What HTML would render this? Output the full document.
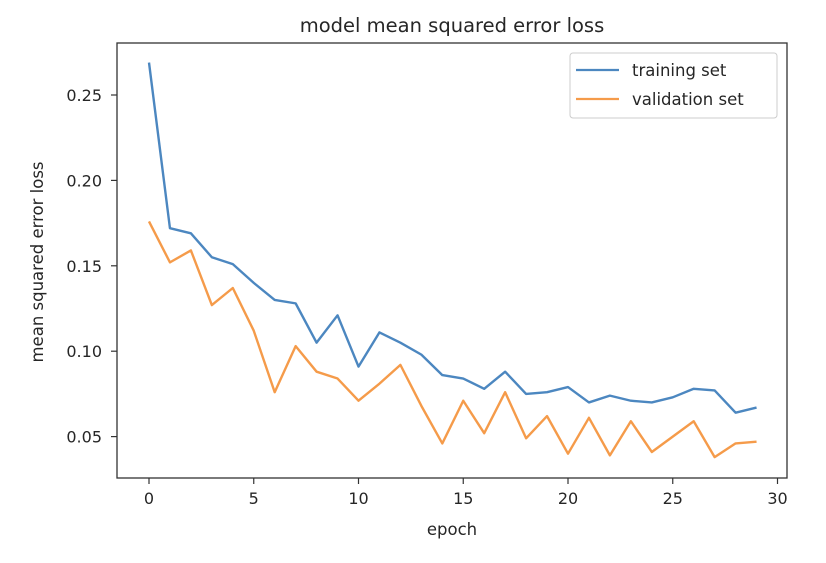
<!DOCTYPE html>
<html><head><meta charset="utf-8"><style>
html,body{margin:0;padding:0;background:#fff;}
svg text{font-family:"DejaVu Sans","Liberation Sans",sans-serif;fill:#262626;}
</style></head><body>
<svg id="chart" width="826" height="558" viewBox="0 0 826 558" xmlns="http://www.w3.org/2000/svg">
<rect width="826" height="558" fill="#fff"/>
<text x="452" y="32" font-size="19.5" text-anchor="middle">model mean squared error loss</text>
<g id="grid"></g>
<g id="lines"></g>
<rect x="117" y="43" width="670" height="435" fill="none" stroke="#333" stroke-width="1.3"/>
<text x="452" y="535" font-size="16.5" text-anchor="middle">epoch</text>
<text x="0" y="0" font-size="16.5" text-anchor="middle" transform="translate(43,262) rotate(-90)">mean squared error loss</text>
<g>
<rect x="570" y="53" width="207" height="65" rx="3" fill="#fff" stroke="#ccc" stroke-width="1"/>
<line x1="576" y1="70" x2="619" y2="70" stroke="#4c87c0" stroke-width="2.3"/>
<text x="632" y="76" font-size="16.5">training set</text>
<line x1="576" y1="99" x2="619" y2="99" stroke="#f59b4a" stroke-width="2.3"/>
<text x="632" y="105" font-size="16.5">validation set</text>
</g>
</svg>
<script>
const epochs = Array.from({length:30},(_,i)=>i);
const training = [0.269,0.172,0.169,0.155,0.151,0.140,0.130,0.128,0.105,0.121,0.091,0.111,0.105,0.098,0.086,0.084,0.078,0.088,0.075,0.076,0.079,0.070,0.074,0.071,0.070,0.073,0.078,0.077,0.064,0.067];
const validation = [0.176,0.152,0.159,0.127,0.137,0.112,0.076,0.103,0.088,0.084,0.071,0.081,0.092,0.068,0.046,0.071,0.052,0.076,0.049,0.062,0.040,0.061,0.039,0.059,0.041,0.050,0.059,0.038,0.046,0.047];
const xTicks = [0,5,10,15,20,25,30];
const yTicks = [0.05,0.10,0.15,0.20,0.25];
const yTickLabels = ["0.05","0.10","0.15","0.20","0.25"];
const NS="http://www.w3.org/2000/svg";
function xs(v){return 149+v*20.95;}
function ys(v){return 95+(0.25-v)*1708;}
const g=document.getElementById('grid'), L=document.getElementById('lines');
xTicks.forEach(t=>{
  const l=document.createElementNS(NS,'line');
  
  
  l.setAttribute('x1',xs(t));l.setAttribute('x2',xs(t));l.setAttribute('y1',478);l.setAttribute('y2',484);
  l.setAttribute('stroke','#333');l.setAttribute('stroke-width','1.2');g.appendChild(l);
  const tx=document.createElementNS(NS,'text');
  
  
  tx.setAttribute('x',xs(t));tx.setAttribute('y',504);tx.setAttribute('font-size','16');tx.setAttribute('text-anchor','middle');
  tx.textContent=t;g.appendChild(tx);
});
yTicks.forEach((t,i)=>{
  const l=document.createElementNS(NS,'line');
  
  
  l.setAttribute('x1',111);l.setAttribute('x2',117);l.setAttribute('y1',ys(t));l.setAttribute('y2',ys(t));
  l.setAttribute('stroke','#333');l.setAttribute('stroke-width','1.2');g.appendChild(l);
  const tx=document.createElementNS(NS,'text');
  
  
  tx.setAttribute('x',102);tx.setAttribute('y',ys(t)+6);tx.setAttribute('font-size','16');tx.setAttribute('text-anchor','end');
  tx.textContent=yTickLabels[i];g.appendChild(tx);
});
function series(data,color,name){
  const p=document.createElementNS(NS,'polyline');
  
  
  p.setAttribute('points',data.map((v,i)=>xs(epochs[i])+','+ys(v)).join(' '));
  p.setAttribute('fill','none');p.setAttribute('stroke',color);p.setAttribute('stroke-width','2.4');
  p.setAttribute('stroke-linejoin','round');
  L.appendChild(p);
}
series(training,'#4c87c0','training-line');
series(validation,'#f59b4a','validation-line');
</script>
</body></html>
